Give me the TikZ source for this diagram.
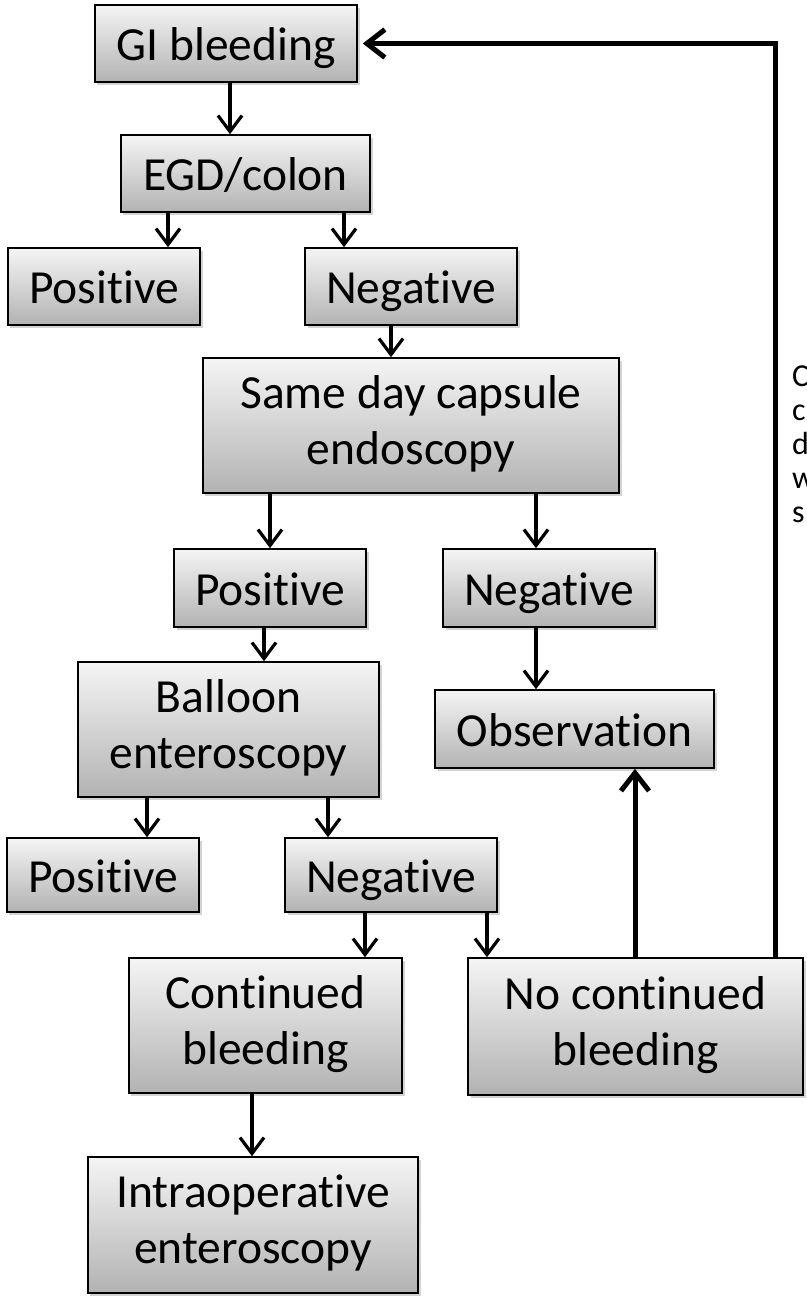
\documentclass[tikz,border=0pt]{standalone}
\usepackage{fontspec}
\setmainfont{Carlito}[Ligatures=NoCommon]
\usetikzlibrary{arrows.meta,shadows}
\tikzset{
  box/.style={draw=black, line width=1.6bp, rectangle, inner sep=0pt,
    top color=black!4, bottom color=black!30,
    drop shadow={shadow xshift=2.5bp, shadow yshift=-3bp, opacity=0.35},
    font=\fontsize{47.5bp}{56bp}\selectfont, align=center,
    execute at begin node={\rule{0pt}{45bp}},
    execute at end node={\rule[-11bp]{0pt}{11bp}}},
  arr/.style={line width=3.2bp, -{Straight Barb[length=16bp,width=24bp]}},
  bigarr/.style={line width=5bp, -{Straight Barb[length=18bp,width=28bp]}},
}
\begin{document}
\begin{tikzpicture}[x=1bp,y=-1bp]
\useasboundingbox (0,0) rectangle (807,1296);
\clip (0,0) rectangle (807,1296);

\node[box, minimum width=262bp, minimum height=77bp] (gi) at (226,43.5) {GI bleeding};
\node[box, minimum width=249bp, minimum height=77bp] (egd) at (245.5,173.5) {EGD/colon};
\node[box, minimum width=192bp, minimum height=77bp] (pos1) at (104,286.5) {Positive};
\node[box, minimum width=212bp, minimum height=77bp] (neg1) at (411,286.5) {Negative};
\node[box, minimum width=416bp, minimum height=135bp] (same) at (411,425.5) {Same day capsule\\endoscopy};
\node[box, minimum width=192bp, minimum height=78bp] (pos2) at (270,588) {Positive};
\node[box, minimum width=212bp, minimum height=78bp] (neg2) at (549,588) {Negative};
\node[box, minimum width=301bp, minimum height=135bp] (balloon) at (228.5,729.5) {Balloon\\enteroscopy};
\node[box, minimum width=279bp, minimum height=78bp] (obs) at (574.5,729) {Observation};
\node[box, minimum width=192bp, minimum height=74bp] (pos3) at (103,875) {Positive};
\node[box, minimum width=212bp, minimum height=74bp] (neg3) at (391,875) {Negative};
\node[box, minimum width=273bp, minimum height=135bp] (cont) at (265.5,1025.5) {Continued\\bleeding};
\node[box, minimum width=335bp, minimum height=137bp] (nocont) at (635.5,1026.5) {No continued\\bleeding};
\node[box, minimum width=330bp, minimum height=136bp] (intra) at (253,1225) {Intraoperative\\enteroscopy};

\node[anchor=north west, inner sep=0pt, align=left,
  font=\fontsize{32bp}{34bp}\selectfont] (side) at (792,366) {C\\c\\d\\w\\s};

\coordinate (x1) at (230,0);
\coordinate (x2) at (168,0);
\coordinate (x3) at (344,0);
\coordinate (x4) at (391,0);
\coordinate (x5) at (270,0);
\coordinate (x6) at (536,0);
\coordinate (x7) at (264,0);
\coordinate (x8) at (147,0);
\coordinate (x9) at (328,0);
\coordinate (x10) at (365,0);
\coordinate (x11) at (487,0);
\coordinate (x12) at (252,0);
\coordinate (x13) at (635,0);
\coordinate (x14) at (775,0);

\draw[arr] (x1 |- gi.south) -- (x1 |- egd.north);
\draw[arr] (x2 |- egd.south) -- (x2 |- pos1.north);
\draw[arr] (x3 |- egd.south) -- (x3 |- neg1.north);
\draw[arr] (x4 |- neg1.south) -- (x4 |- same.north);
\draw[arr] (x5 |- same.south) -- (x5 |- pos2.north);
\draw[arr] (x6 |- same.south) -- (x6 |- neg2.north);
\draw[arr] (x7 |- pos2.south) -- (x7 |- balloon.north);
\draw[arr] (x6 |- neg2.south) -- (x6 |- obs.north);
\draw[arr] (x8 |- balloon.south) -- (x8 |- pos3.north);
\draw[arr] (x9 |- balloon.south) -- (x9 |- neg3.north);
\draw[arr] (x10 |- neg3.south) -- (x10 |- cont.north);
\draw[arr] (x11 |- neg3.south) -- (x11 |- nocont.north);
\draw[arr] (x12 |- cont.south) -- (x12 |- intra.north);

\draw[bigarr] (x13 |- nocont.north) -- (x13 |- obs.south);
\draw[bigarr] (x14 |- nocont.north) |- ([xshift=5bp]gi.east);
\end{tikzpicture}
\end{document}
